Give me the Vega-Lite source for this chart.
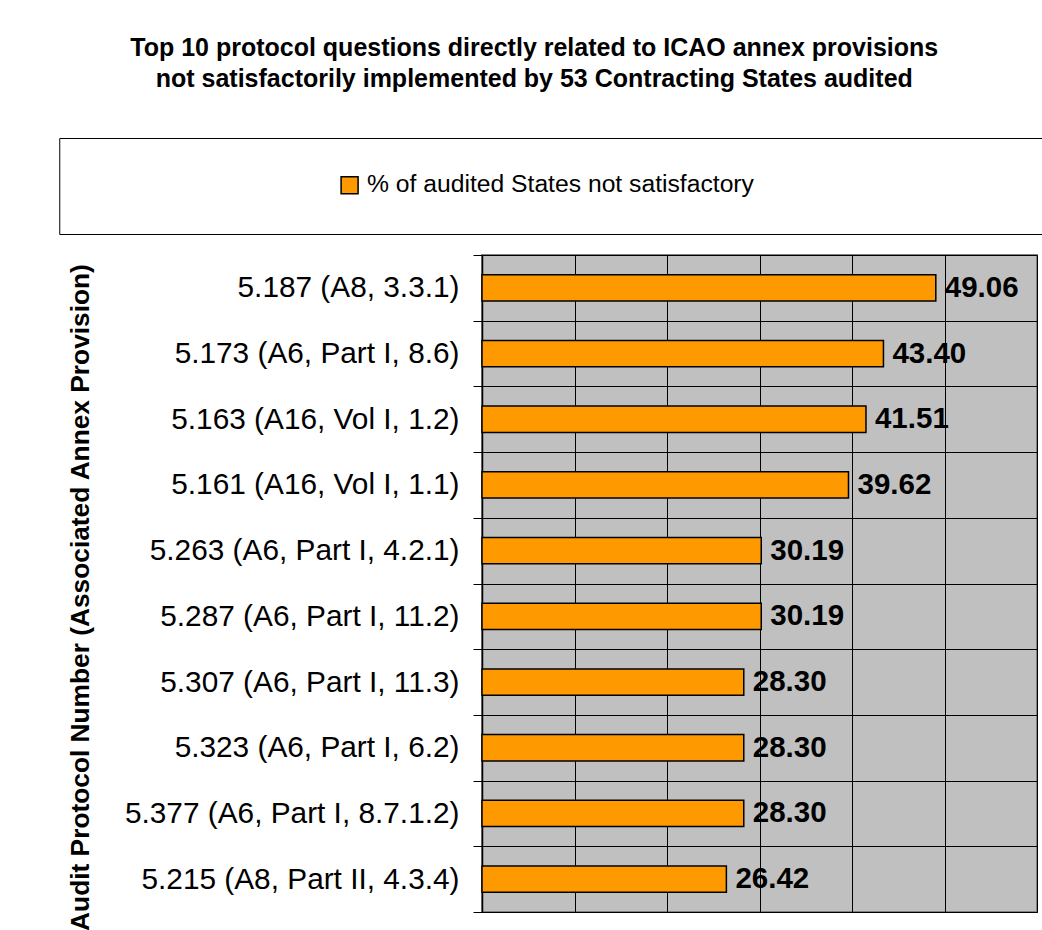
{
  "$schema": "https://vega.github.io/schema/vega-lite/v6.json",
  "background": "white",
  "padding": {"left": 58, "top": 35, "right": 0, "bottom": 0},
  "config": {"font": "Liberation Sans", "view": {"continuousWidth": 300}},
  "title": {
    "text": ["Top 10 protocol questions directly related to ICAO annex  provisions", "not satisfactorily implemented by 53 Contracting States audited"],
    "font": "Liberation Sans", "fontSize": 25, "fontWeight": "bold", "color": "black",
    "lineHeight": 31.7, "anchor": "middle", "offset": 45, "dx": -225.5
  },
  "datasets": {
    "legendrow": [{"s": "% of audited States not satisfactory"}],
    "bars": [
      {"q": "5.187 (A8, 3.3.1)", "pct": 49.06},
      {"q": "5.173 (A6, Part I, 8.6)", "pct": 43.40},
      {"q": "5.163 (A16, Vol I, 1.2)", "pct": 41.51},
      {"q": "5.161 (A16, Vol I, 1.1)", "pct": 39.62},
      {"q": "5.263 (A6, Part I, 4.2.1)", "pct": 30.19},
      {"q": "5.287 (A6, Part I, 11.2)", "pct": 30.19},
      {"q": "5.307 (A6, Part I, 11.3)", "pct": 28.30},
      {"q": "5.323 (A6, Part I, 6.2)", "pct": 28.30},
      {"q": "5.377 (A6, Part I, 8.7.1.2)", "pct": 28.30},
      {"q": "5.215 (A8, Part II, 4.3.4)", "pct": 26.42}
    ]
  },
  "spacing": 4,
  "center": true,
  "resolve": {"legend": {"color": "independent"}},
  "vconcat": [
    {
      "width": 1401,
      "height": 96,
      "view": {"stroke": "black", "strokeWidth": 1, "fill": "white"},
      "data": {"name": "legendrow"},
      "mark": {"type": "text", "text": ""},
      "encoding": {
        "color": {
          "field": "s", "type": "nominal",
          "scale": {"range": ["#FF9900"]},
          "legend": {
            "orient": "none", "legendX": 278, "legendY": 35, "title": null, "padding": 0,
            "symbolType": "square", "symbolSize": 289, "symbolFillColor": "#FF9900",
            "symbolStrokeColor": "black", "symbolStrokeWidth": 1.5, "symbolOpacity": 1,
            "labelOffset": 5, "labelFontSize": 24.7, "labelFont": "Liberation Sans",
            "labelColor": "black", "labelLimit": 1000
          }
        }
      }
    },
    {
      "width": 555,
      "height": 657,
      "view": {"fill": "#C0C0C0", "stroke": "#808080", "strokeWidth": 2},
      "data": {"name": "bars"},
      "encoding": {
        "y": {
          "field": "q", "type": "nominal", "sort": null,
          "scale": {"paddingInner": 0, "paddingOuter": 0},
          "axis": {
            "tickBand": "extent", "grid": true, "gridColor": "black", "gridOpacity": 1, "gridWidth": 1,
            "domainColor": "black", "domainWidth": 1.5, "tickColor": "black", "tickSize": 9, "tickWidth": 1,
            "labelFontSize": 29.8, "labelColor": "black", "labelPadding": 14, "labelLimit": 0,
            "labelFont": "Liberation Sans",
            "title": "Audit Protocol Number (Associated Annex Provision)",
            "titleFont": "Liberation Sans", "titleFontSize": 26.3, "titleFontWeight": "bold",
            "titleColor": "black", "titleAngle": 270, "titleAlign": "center", "titleBaseline": "alphabetic",
            "titleX": -394, "titleY": 342
          }
        },
        "x": {
          "field": "pct", "type": "quantitative",
          "scale": {"domain": [0, 60], "nice": false},
          "axis": {
            "values": [0, 10, 20, 30, 40, 50, 60], "labels": false, "ticks": false, "domain": false,
            "title": null, "grid": true, "gridColor": "black", "gridOpacity": 1, "gridWidth": 1
          }
        }
      },
      "layer": [
        {"mark": {"type": "bar", "color": "#FF9900", "stroke": "black", "strokeWidth": 1.5, "height": {"band": 0.4}}},
        {
          "mark": {"type": "text", "align": "left", "baseline": "middle", "dx": 9, "fontSize": 29.5, "fontWeight": "bold", "color": "black", "font": "Liberation Sans"},
          "encoding": {"text": {"field": "pct", "type": "quantitative", "format": ".2f"}}
        }
      ]
    }
  ]
}
